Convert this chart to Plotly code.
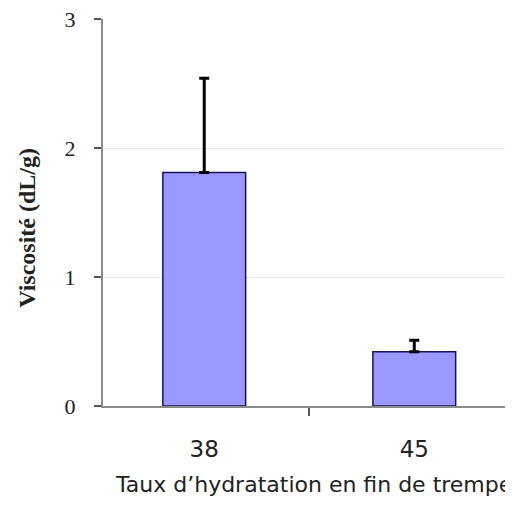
import plotly.graph_objects as go

categories = ["38", "45"]
viscosity = [1.81, 0.42]
err_plus = [0.73, 0.09]
err_minus = [0, 0]
y_ticks = [0, 1, 2, 3]

OFF = 8  # default page body margin
W, H = 513 - OFF, 515 - 2 * OFF
L, R = 103 - OFF, 0
T = 19 - OFF
PLOT_H = 387.4
B = H - T - PLOT_H
PW = W - L - R

def px_x(page_x):
    return (page_x - OFF - L) / PW

def px_y(page_y):
    return (T + PLOT_H - (page_y - OFF)) / PLOT_H

fig = go.Figure()
fig.add_trace(go.Bar(
    x=categories, y=viscosity,
    marker=dict(color="#9999ff", line=dict(color="#14145a", width=1.5)),
    error_y=dict(type="data", symmetric=False, array=err_plus, arrayminus=err_minus,
                 color="black", thickness=3, width=5),
    width=0.394,
))

fig.update_layout(
    width=W, height=H,
    margin=dict(l=L, r=R, t=T, b=B, pad=0),
    plot_bgcolor="white", paper_bgcolor="white",
    showlegend=False,
    xaxis=dict(
        type="category", range=[-0.482, 1.47],
        showline=True, linecolor="#8a8a8a", linewidth=2,
        ticks="outside", tickson="boundaries", ticklen=8, tickcolor="#555555", tickwidth=1.5,
        showgrid=False,
        tickfont=dict(family="DejaVu Sans", size=23, color="#222222"),
        ticklabelstandoff=21,
    ),
    yaxis=dict(
        range=[0, 3], tickvals=y_ticks,
        showline=True, linecolor="#8a8a8a", linewidth=2,
        ticks="outside", ticklen=7, tickcolor="#555555", tickwidth=1.5,
        showgrid=True, gridcolor="#e6e6e6", gridwidth=1,
        zeroline=False,
        tickfont=dict(family="Liberation Serif", size=22, color="#222222"),
        ticklabelstandoff=14, ticklabeloverflow="allow",
    ),
    annotations=[
        dict(text="Taux d\u2019hydratation en fin de trempe", xref="paper", yref="paper",
             x=px_x(113), y=px_y(485),
             xanchor="left", yanchor="middle", showarrow=False,
             font=dict(family="DejaVu Sans", size=22, color="#222222")),
        dict(text="<b>Viscosité (dL/g)</b>", xref="paper", yref="paper",
             x=px_x(27), y=px_y(228),
             xanchor="center", yanchor="middle", textangle=-90, showarrow=False,
             font=dict(family="Liberation Serif", size=24, color="#222222")),
    ],
)

fig.write_html("out.html")
